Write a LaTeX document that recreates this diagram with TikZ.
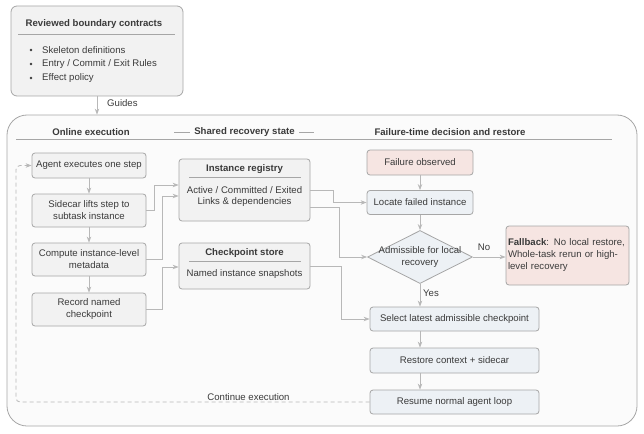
\documentclass[tikz,border=0pt]{standalone}
\usepackage{fontspec}
\setmainfont{Liberation Sans}
\usetikzlibrary{arrows.meta,shapes.geometric}
\definecolor{bc}{HTML}{A6A6A6}
\definecolor{bf}{HTML}{F2F2F2}
\definecolor{pinkf}{HTML}{F6E5E2}
\definecolor{bluef}{HTML}{EDF1F5}
\definecolor{ac}{HTML}{B8B8B8}
\definecolor{tc}{HTML}{3A3A3A}
\definecolor{cf}{HTML}{FBFBFB}
\newcommand{\fs}{\fontsize{9.6}{12}\selectfont}
\tikzset{
  box/.style={draw=bc, fill=bf, rounded corners=3pt, align=center, inner sep=1pt, font=\fs, text=tc, line width=0.8pt},
  pinkbox/.style={box, fill=pinkf},
  bluebox/.style={box, fill=bluef},
  lbl/.style={font=\fs, text=tc, inner sep=0pt},
  hdr/.style={font=\fs\bfseries, text=tc, inner sep=0pt},
  arr/.style={draw=ac, line width=0.9pt, -{Stealth[length=6pt,width=4.5pt]}},
  sep/.style={draw=bc, line width=0.7pt},
  bul/.style={circle, fill=tc, inner sep=0pt, minimum size=2.6pt},
}
\begin{document}
\begin{tikzpicture}[x=1pt,y=-1pt]
\useasboundingbox (0,0) rectangle (644,433);
% top box
\node[box, minimum width=172pt, minimum height=90pt, rounded corners=6pt] (top) at (97,51) {};
\node[hdr] (toptitle) at (94,24) {Reviewed boundary contracts};
\draw[sep] (18,34) -- (175,34);
\node[bul] (d1) at (31,50) {};
\node[bul] (d2) at (31,64) {};
\node[bul] (d3) at (31,78) {};
\node[lbl, anchor=west] (b1) at (42,50) {Skeleton definitions};
\node[lbl, anchor=west] (b2) at (42,64) {Entry / Commit / Exit Rules};
\node[lbl, anchor=west] (b3) at (42,78) {Effect policy};
% container
\node[draw=bc, fill=cf, line width=0.8pt, rounded corners=20pt, minimum width=630pt, minimum height=311pt, inner sep=0pt] (main) at (322,270.5) {};
\draw[arr] (top.south -| 97,0) -- (main.north -| 97,0);
\node[lbl, anchor=west] (guides) at (107,103) {Guides};
% headers
\node[hdr] (h1) at (91,132) {Online execution};
\node[hdr] (h2) at (244.5,132) {Shared recovery state};
\draw[sep] (174,132) -- (190,132);
\draw[sep] (299,132) -- (314,132);
\node[hdr] (h3) at (450,132) {Failure-time decision and restore};
\draw[sep] (16,139.5) -- (612,139.5);
% left column
\node[box, minimum width=114pt, minimum height=25pt] (agent) at (89,165.5) {Agent executes one step};
\node[box, minimum width=114pt, minimum height=33pt] (side) at (89,210.5) {Sidecar lifts step to\\subtask instance};
\node[box, minimum width=114pt, minimum height=33pt] (comp) at (89,259.5) {Compute instance-level\\metadata};
\node[box, minimum width=114pt, minimum height=33pt] (rec) at (89,309.5) {Record named\\checkpoint};
\draw[arr] (agent) -- (side);
\draw[arr] (side) -- (comp);
\draw[arr] (comp) -- (rec);
% middle
\node[box, minimum width=131pt, minimum height=62pt] (reg) at (244.5,190) {};
\node[hdr] (regt) at (244.5,169) {Instance registry};
\draw[sep] (189,177.5) -- (301,177.5);
\node[lbl] (regl1) at (244.5,190) {Active / Committed / Exited};
\node[lbl] (regl2) at (244.5,202) {Links \& dependencies};
\node[box, minimum width=131pt, minimum height=46pt] (ckp) at (244.5,266) {};
\node[hdr] (ckpt) at (244.5,253) {Checkpoint store};
\draw[sep] (189,261.5) -- (301,261.5);
\node[lbl] (ckpl) at (244.5,274) {Named instance snapshots};
\draw[arr] (side.east) -- (154,210.5) -- (154,185) -- (reg.west |- 0,185);
\draw[arr] (comp.east) -- (162,259.5) -- (162,196) -- (reg.west |- 0,196);
\draw[arr] (rec.east) -- (162,309.5) -- (162,267) -- (ckp.west |- 0,267);
% right column
\node[pinkbox, minimum width=106pt, minimum height=25pt] (fail) at (420,162.5) {Failure observed};
\node[bluebox, minimum width=106pt, minimum height=24pt] (loc) at (420,202.5) {Locate failed instance};
\node[draw=bc, fill=bluef, line width=0.8pt, diamond, aspect=2, minimum width=105pt, minimum height=53pt, inner sep=0pt] (dia) at (420,257) {};
\node[lbl, align=center] (dial) at (420,257) {Admissible for local\\recovery};
\node[pinkbox, minimum width=123pt, minimum height=59pt, text width=119pt, align=left] (fb) at (567.5,255.5) {\textbf{Fallback}: No local restore,\\Whole-task rerun or high-\\level recovery};
\node[bluebox, minimum width=169pt, minimum height=24pt] (sel) at (454.5,319) {Select latest admissible checkpoint};
\node[bluebox, minimum width=169pt, minimum height=25pt] (rst) at (454.5,360.5) {Restore context + sidecar};
\node[bluebox, minimum width=169pt, minimum height=24pt] (res) at (454.5,402) {Resume normal agent loop};
\draw[arr] (fail) -- (loc);
\draw[arr] (loc) -- (dia);
\draw[arr] (dia.south) -- (dia.south |- sel.north);
\node[lbl, anchor=west] (yes) at (423,293) {Yes};
\draw[arr] (dia.east) -- (fb.west |- dia.east);
\node[lbl] (no) at (484,247) {No};
\draw[arr] (sel.south -| 420,0) -- (rst.north -| 420,0);
\draw[arr] (rst.south -| 420,0) -- (res.north -| 420,0);
\draw[arr] (reg.east |- 0,190) -- (333,190) -- (333,202.5) -- (loc.west);
\draw[arr] (reg.east |- 0,207) -- (339,207) -- (339,257) -- (dia.west);
\draw[arr] (ckp.east |- 0,266) -- (341,266) -- (341,319) -- (sel.west);
% loop
\coordinate (lb) at (16,402);
\coordinate (lt) at (16,165.5);
\draw[draw=ac, line width=0.8pt, dash pattern=on 4pt off 3pt, rounded corners=4pt, -{Stealth[length=6pt,width=4.5pt]}] (res.west) -- (lb) -- (lt) -- (agent.west);
\node[lbl] (cont) at (248.5,397) {Continue execution};
\end{tikzpicture}
\end{document}
